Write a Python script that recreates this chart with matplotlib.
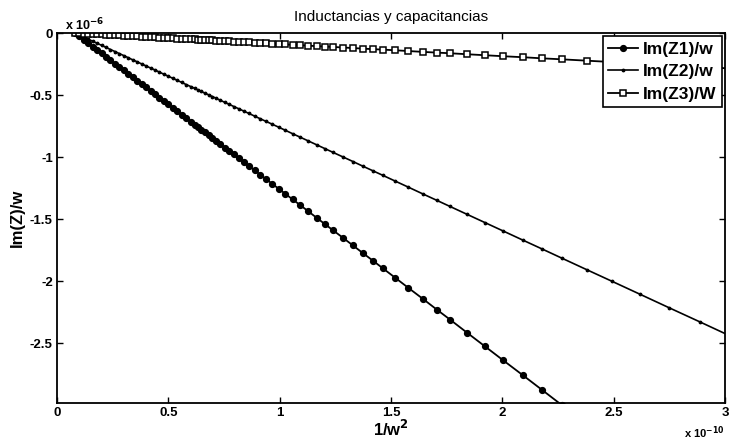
import numpy as np
import matplotlib
matplotlib.use("Agg")
import matplotlib.pyplot as plt

plt.rcParams['font.family'] = ['Liberation Sans', 'DejaVu Sans']

# 1/w^2 in units of 1e-10
inv_w2 = [0.08, 0.10, 0.12, 0.14, 0.16, 0.18, 0.20, 0.22, 0.24, 0.26,
          0.28, 0.30, 0.32, 0.34, 0.36, 0.38, 0.40, 0.42, 0.44, 0.46,
          0.48, 0.50, 0.52, 0.54, 0.56, 0.58, 0.604, 0.618, 0.633, 0.648,
          0.664, 0.681, 0.698, 0.716, 0.734, 0.754, 0.774, 0.794, 0.816, 0.839,
          0.862, 0.887, 0.912, 0.939, 0.967, 0.996, 1.026, 1.058, 1.092, 1.127,
          1.168, 1.203, 1.239, 1.284, 1.329, 1.374, 1.419, 1.464, 1.518, 1.576,
          1.643, 1.706, 1.765, 1.841, 1.922, 2.003, 2.092, 2.178, 2.268, 2.380,
          2.494, 2.617, 2.748, 2.890, 3.040]

# Im(Z)/w in units of 1e-6
im_z1 = [0, -0.027, -0.055, -0.082, -0.110, -0.137, -0.164, -0.192, -0.219, -0.247,
         -0.274, -0.301, -0.329, -0.356, -0.384, -0.411, -0.438, -0.466, -0.493, -0.521,
         -0.548, -0.575, -0.603, -0.630, -0.658, -0.685, -0.718, -0.737, -0.758, -0.778,
         -0.800, -0.823, -0.847, -0.871, -0.896, -0.923, -0.951, -0.978, -1.008, -1.040,
         -1.071, -1.106, -1.140, -1.177, -1.215, -1.255, -1.296, -1.340, -1.386, -1.434,
         -1.491, -1.539, -1.588, -1.649, -1.711, -1.773, -1.834, -1.896, -1.970, -2.050,
         -2.141, -2.228, -2.308, -2.413, -2.524, -2.635, -2.756, -2.874, -2.998, -3.151,
         -3.307, -3.476, -3.655, -3.850, -4.055]

im_z2 = [0, -0.017, -0.033, -0.050, -0.066, -0.083, -0.099, -0.116, -0.133, -0.149,
         -0.166, -0.182, -0.199, -0.216, -0.232, -0.249, -0.265, -0.282, -0.298, -0.315,
         -0.332, -0.348, -0.365, -0.381, -0.398, -0.415, -0.434, -0.446, -0.458, -0.471,
         -0.484, -0.498, -0.512, -0.527, -0.542, -0.559, -0.575, -0.592, -0.610, -0.629,
         -0.648, -0.669, -0.690, -0.712, -0.735, -0.759, -0.784, -0.811, -0.839, -0.868,
         -0.902, -0.931, -0.961, -0.998, -1.035, -1.073, -1.110, -1.147, -1.192, -1.240,
         -1.296, -1.348, -1.397, -1.460, -1.527, -1.594, -1.668, -1.739, -1.814, -1.907,
         -2.001, -2.103, -2.212, -2.329, -2.454]

im_z3 = [0, -0.002, -0.004, -0.006, -0.008, -0.010, -0.012, -0.014, -0.016, -0.017,
         -0.019, -0.021, -0.023, -0.025, -0.027, -0.029, -0.031, -0.033, -0.035, -0.037,
         -0.039, -0.041, -0.043, -0.045, -0.047, -0.049, -0.051, -0.052, -0.054, -0.055,
         -0.057, -0.058, -0.060, -0.062, -0.063, -0.065, -0.067, -0.069, -0.071, -0.074,
         -0.076, -0.078, -0.081, -0.083, -0.086, -0.089, -0.092, -0.095, -0.098, -0.102,
         -0.106, -0.109, -0.112, -0.117, -0.121, -0.126, -0.130, -0.134, -0.139, -0.145,
         -0.152, -0.158, -0.163, -0.171, -0.179, -0.187, -0.195, -0.204, -0.212, -0.223,
         -0.234, -0.246, -0.259, -0.273, -0.287]

x_ticks = [0, 0.5, 1, 1.5, 2, 2.5, 3]
x_ticklabels = ['0', '0.5', '1', '1.5', '2', '2.5', '3']
y_ticks = [0, -0.5, -1, -1.5, -2, -2.5]
y_ticklabels = ['0', '-0.5', '-1', '-1.5', '-2', '-2.5']

fig = plt.figure(figsize=(7.29, 4.43), dpi=100)
ax = fig.add_axes([0.0782, 0.0903, 0.9163, 0.8352])

ax.plot(inv_w2, im_z1, color='black', lw=1.3, marker='o', ms=4.2, label='Im(Z1)/w')
ax.plot(inv_w2, im_z2, color='black', lw=1.2, marker='.', ms=3.5, label='Im(Z2)/w')
ax.plot(inv_w2, im_z3, color='black', lw=1.3, marker='s', ms=4, mfc='white', mew=1.1,
        label='Im(Z3)/W')

ax.set_xlim(0, 3)
ax.set_ylim(-2.98, 0)
ax.set_xticks(x_ticks)
ax.set_xticklabels(x_ticklabels)
ax.set_yticks(y_ticks)
ax.set_yticklabels(y_ticklabels)
ax.tick_params(direction='in', top=True, right=True, length=4, width=1,
               labelsize=9.5, pad=3)
for lbl in ax.get_xticklabels() + ax.get_yticklabels():
    lbl.set_fontweight('bold')
for sp in ax.spines.values():
    sp.set_linewidth(1.3)

# MATLAB style exponent labels
ax.text(0.012, 1.0, r'x 10$^{\mathbf{-6}}$', transform=ax.transAxes, fontsize=9,
        fontweight='bold', ha='left', va='bottom')
ax.text(1.0, -0.058, r'x 10$^{\mathbf{-10}}$', transform=ax.transAxes, fontsize=8,
        fontweight='bold', ha='right', va='top')

ax.set_title('Inductancias y capacitancias', fontsize=11, pad=9)
ax.set_ylabel('Im(Z)/w', fontsize=12, fontweight='bold', labelpad=4)
ax.set_xlabel(r'1/w$^{\mathbf{2}}$', fontsize=12, fontweight='bold', labelpad=0)

leg = ax.legend(loc='upper right', fontsize=12.5, frameon=True, fancybox=False,
                edgecolor='black', framealpha=1.0, handlelength=1.7, borderpad=0.3,
                labelspacing=0.42, handletextpad=0.3, borderaxespad=0.2)
leg.get_frame().set_linewidth(1.2)
for t in leg.get_texts():
    t.set_fontweight('bold')

fig.savefig('out.png', dpi=100)
